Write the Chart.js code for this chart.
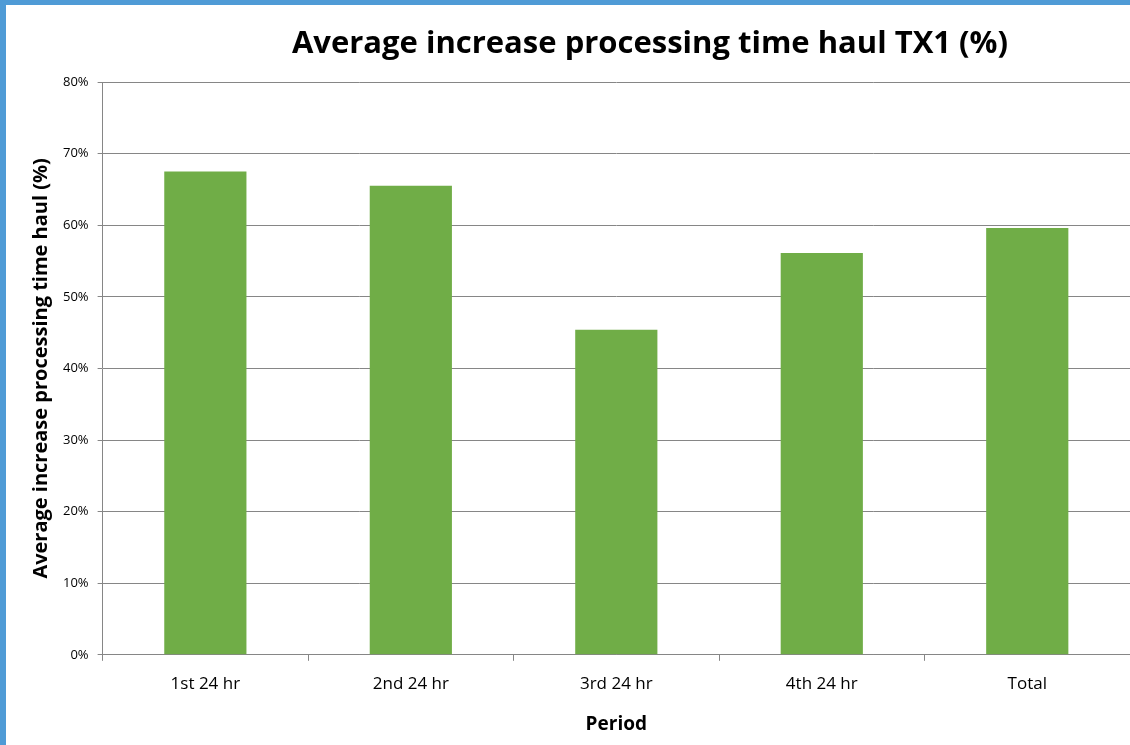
<!DOCTYPE html>
<html>
<head>
<meta charset="utf-8">
<script src="https://cdn.jsdelivr.net/npm/chart.js@4"></script>
<style>
  body { margin: 0; background: #fff; }
  #wrap { position: relative; width: 1130px; height: 745px; overflow: hidden; }
  #bl { position: absolute; left: 0; top: 0; width: 6px; height: 745px; background: #4f9bd6; }
  #bt { position: absolute; left: 0; top: 0; width: 1130px; height: 5px; background: #4f9bd6; }
  #ttl { position: absolute; left: 250px; width: 800px; top: 20px; text-align: center;
         font: bold 31px "Open Sans", sans-serif; color: #000; }
</style>
</head>
<body>
<div id="wrap">
  <canvas id="chart_a" width="1130" height="745"></canvas>
  <div id="bl"></div>
  <div id="bt"></div>
  <div id="ttl">Average increase processing time haul TX1 (%)</div>
</div>
<script>
var periods = ['1st 24 hr', '2nd 24 hr', '3rd 24 hr', '4th 24 hr', 'Total'];
var avgIncrease = [67.5, 65.5, 45.4, 56.1, 59.6];
var yTicks = [0, 10, 20, 30, 40, 50, 60, 70, 80];

var ctx = document.getElementById('chart_a').getContext('2d');
var chart = new Chart(ctx, {
  type: 'bar',
  data: {
    labels: periods,
    datasets: [{
      data: avgIncrease,
      backgroundColor: '#70ad47',
      borderWidth: 0,
      categoryPercentage: 1,
      barPercentage: 0.4
    }]
  },
  options: {
    responsive: false,
    animation: false,
    layout: { padding: { top: 82, right: -3, left: 25, bottom: 5 } },
    plugins: { legend: { display: false }, tooltip: { enabled: false } },
    scales: {
      x: {
        grid: { offset: true, drawOnChartArea: false, drawTicks: true, tickLength: 6, color: '#868686' },
        border: { color: '#868686' },
        ticks: { color: '#000', font: { family: 'Open Sans', size: 17 }, padding: 13 },
        title: { display: true, text: 'Period', color: '#000', font: { family: 'Open Sans', size: 19, weight: 'bold' }, padding: { top: 6 } }
      },
      y: {
        min: 0, max: 80,
        afterBuildTicks: function (s) { s.ticks = yTicks.map(function (v) { return { value: v }; }); },
        grid: { color: '#868686', tickLength: 5 },
        border: { color: '#868686' },
        ticks: { color: '#000', font: { family: 'Open Sans', size: 13 }, padding: 9,
                 callback: function (v) { return v + '%'; } },
        title: { display: true, text: 'Average increase processing time haul (%)', color: '#000',
                 font: { family: 'Open Sans', size: 20, weight: 'bold' }, padding: { bottom: 1 } }
      }
    }
  }
});
</script>
</body>
</html>
